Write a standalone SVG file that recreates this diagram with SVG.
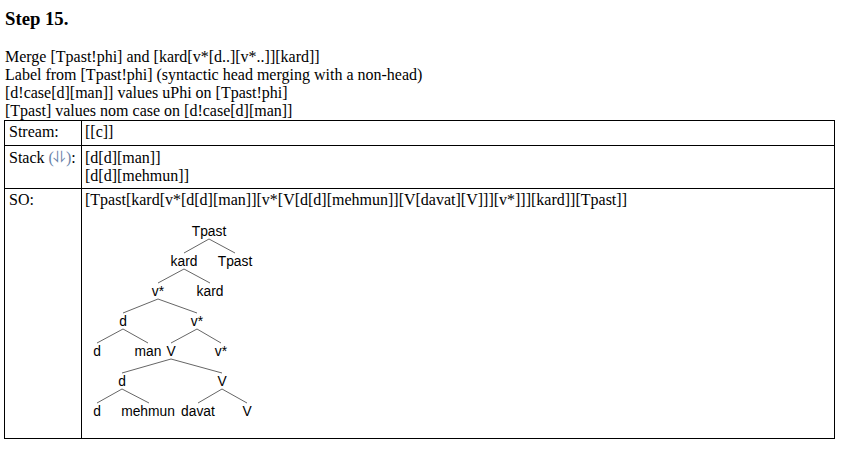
<svg xmlns="http://www.w3.org/2000/svg" width="857" height="456" viewBox="0 0 857 456">
<style>
.t{font-family:"Liberation Serif","Times New Roman",serif;font-size:16px;fill:#000}
.h{font-family:"Liberation Serif","Times New Roman",serif;font-size:18.72px;font-weight:bold;fill:#000}
.n{font-family:"Liberation Sans",Arial,sans-serif;font-size:13.8px;fill:#000;text-anchor:middle}
.e{stroke:#666;stroke-width:1;fill:none}
.b{stroke:#000;stroke-width:1;fill:none}
.arr{fill:#6a84aa}
</style>
<rect width="857" height="456" fill="#fff"/>
<g id="header">
<text class="h" x="5" y="25">Step 15.</text>
<text class="t" x="5" y="62">Merge [Tpast!phi] and [kard[v*[d..][v*..]][kard]]</text>
<text class="t" x="5" y="80">Label from [Tpast!phi] (syntactic head merging with a non-head)</text>
<text class="t" x="5" y="98">[d!case[d][man]] values uPhi on [Tpast!phi]</text>
<text class="t" x="5" y="116">[Tpast] values nom case on [d!case[d][man]]</text>
</g>
<g id="table">
<rect class="b" x="4.5" y="120.5" width="830" height="318"/>
<line class="b" x1="4.5" y1="145.5" x2="834.5" y2="145.5"/>
<line class="b" x1="4.5" y1="188.5" x2="834.5" y2="188.5"/>
<line class="b" x1="81.5" y1="120.5" x2="81.5" y2="438.5"/>
<text class="t" x="9" y="137">Stream:</text>
<text class="t" x="85" y="137">[[c]]</text>
<text class="t" x="9" y="163">Stack <tspan class="arr">(⥥)</tspan>:</text>
<text class="t" x="85" y="163">[d[d][man]]</text>
<text class="t" x="85" y="181">[d[d][mehmun]]</text>
<text class="t" x="9" y="205">SO:</text>
<text class="t" x="85" y="205">[Tpast[kard[v*[d[d][man]][v*[V[d[d][mehmun]][V[davat][V]]][v*]]][kard]][Tpast]]</text>
</g>
<g id="connectors">
<line class="e" x1="209" y1="239" x2="184" y2="253"/>
<line class="e" x1="209" y1="239" x2="235" y2="253"/>
<line class="e" x1="184" y1="269" x2="158" y2="283"/>
<line class="e" x1="184" y1="269" x2="210" y2="283"/>
<line class="e" x1="158" y1="299" x2="123" y2="313"/>
<line class="e" x1="158" y1="299" x2="197" y2="313"/>
<line class="e" x1="123" y1="329" x2="97" y2="343"/>
<line class="e" x1="123" y1="329" x2="148" y2="343"/>
<line class="e" x1="197" y1="329" x2="171" y2="343"/>
<line class="e" x1="197" y1="329" x2="221" y2="343"/>
<line class="e" x1="171" y1="359" x2="122" y2="373"/>
<line class="e" x1="171" y1="359" x2="222" y2="373"/>
<line class="e" x1="122" y1="389" x2="97" y2="403"/>
<line class="e" x1="122" y1="389" x2="149" y2="403"/>
<line class="e" x1="222" y1="389" x2="198" y2="403"/>
<line class="e" x1="222" y1="389" x2="247" y2="403"/>
</g>
<g id="n-Tpast-root"><text class="n" x="209" y="236">Tpast</text></g>
<g id="n-kard-1"><text class="n" x="184" y="266">kard</text></g>
<g id="n-Tpast-leaf"><text class="n" x="235" y="266">Tpast</text></g>
<g id="n-vstar-1"><text class="n" x="158" y="296">v*</text></g>
<g id="n-kard-leaf"><text class="n" x="210" y="296">kard</text></g>
<g id="n-d-1"><text class="n" x="123" y="326">d</text></g>
<g id="n-vstar-2"><text class="n" x="197" y="326">v*</text></g>
<g id="n-d-leaf-1"><text class="n" x="97" y="356">d</text></g>
<g id="n-man"><text class="n" x="148" y="356">man</text></g>
<g id="n-V-1"><text class="n" x="171" y="356">V</text></g>
<g id="n-vstar-leaf"><text class="n" x="221" y="356">v*</text></g>
<g id="n-d-2"><text class="n" x="122" y="386">d</text></g>
<g id="n-V-2"><text class="n" x="222" y="386">V</text></g>
<g id="n-d-leaf-2"><text class="n" x="97" y="416">d</text></g>
<g id="n-mehmun"><text class="n" x="148" y="416">mehmun</text></g>
<g id="n-davat"><text class="n" x="198" y="416">davat</text></g>
<g id="n-V-leaf"><text class="n" x="247" y="416">V</text></g>
</svg>
